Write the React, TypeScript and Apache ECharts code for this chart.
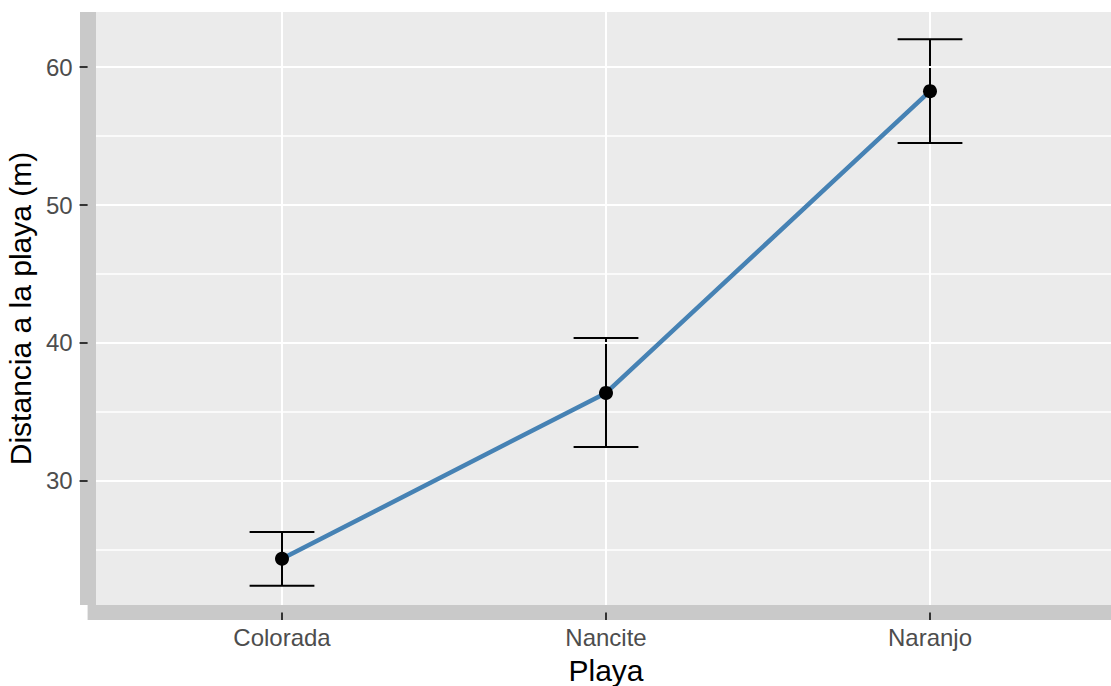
import React, { useEffect, useRef } from "react";
import * as echarts from "echarts";

const categories = ["Colorada", "Nancite", "Naranjo"];
const means = [24.35, 36.38, 58.26];
const lower = [22.4, 32.46, 54.5];
const upper = [26.3, 40.36, 62.03];
const majorTicks = [30, 40, 50, 60];
const minorTicks = [25, 35, 45, 55];
const xPositions = [1, 2, 3];

export default function App() {
  const ref = useRef<HTMLDivElement>(null);
  useEffect(() => {
    if (!ref.current) return;
    const chart = echarts.init(ref.current, null, { renderer: "svg" });
    const pts = categories.map((_, i) => [xPositions[i], means[i]]);
    const errData = categories.map((_, i) => [xPositions[i], lower[i], upper[i]]);
    const font = "Liberation Sans, Arial, sans-serif";
    chart.setOption({
      animation: false,
      backgroundColor: "#ffffff",
      grid: {
        left: 87.6,
        right: -13.4,
        top: 12,
        bottom: 81,
        show: true,
        backgroundColor: "#EBEBEB",
        borderWidth: 0,
        outerBoundsMode: "none",
        containLabel: false,
      },
      xAxis: {
        type: "value",
        min: 0.4,
        max: 3.6,
        offset: 7.5,
        name: "Playa",
        nameLocation: "middle",
        nameGap: 43,
        nameTextStyle: { fontSize: 30, color: "#000", fontFamily: font },
        axisLine: { show: true, lineStyle: { color: "#C9C9C9", width: 15, cap: "butt" } },
        axisTick: {
          show: true,
          customValues: xPositions,
          length: 7.5,
          lineStyle: { color: "#333333", width: 2, cap: "butt" },
        },
        axisLabel: {
          customValues: xPositions,
          formatter: (v: number) => categories[Math.round(v) - 1] ?? "",
          fontSize: 24,
          color: "#4D4D4D",
          fontFamily: font,
          margin: 13,
        },
        splitLine: { show: true, lineStyle: { color: "#ffffff", width: 2 } },
      },
      yAxis: [
        {
          type: "value",
          min: 21,
          max: 64,
          name: "Distancia a la playa (m)",
          nameLocation: "middle",
          nameGap: 46,
          nameTextStyle: { fontSize: 30, color: "#000", fontFamily: font },
          axisLine: { show: true, lineStyle: { color: "#C9C9C9", width: 16, cap: "butt" } },
          axisTick: {
            show: true,
            customValues: majorTicks,
            length: 8,
            lineStyle: { color: "#333333", width: 2, cap: "butt" },
          },
          axisLabel: {
            customValues: majorTicks,
            fontSize: 24,
            color: "#4D4D4D",
            fontFamily: font,
            margin: 15,
          },
          splitLine: { show: true, lineStyle: { color: "#ffffff", width: 2 } },
          z: 3,
        },
        {
          type: "value",
          min: 21,
          max: 64,
          axisLine: { show: false },
          axisTick: { show: false, customValues: minorTicks },
          axisLabel: { show: false, customValues: minorTicks },
          splitLine: { show: true, lineStyle: { color: "#ffffff", width: 1.5 } },
          z: 1,
        },
      ],
      series: [
        {
          type: "custom",
          yAxisIndex: 0,
          data: errData,
          z: 2,
          renderItem: (params: any, api: any) => {
            const x = api.value(0);
            const lo = api.value(1);
            const hi = api.value(2);
            const top = api.coord([x, hi]);
            const bot = api.coord([x, lo]);
            const tl = api.coord([x - 0.1, hi]);
            const tr = api.coord([x + 0.1, hi]);
            const bl = api.coord([x - 0.1, lo]);
            const br = api.coord([x + 0.1, lo]);
            const style = { stroke: "#000000", lineWidth: 2 };
            return {
              type: "group",
              children: [
                { type: "line", shape: { x1: top[0], y1: top[1], x2: bot[0], y2: bot[1] }, style },
                { type: "line", shape: { x1: tl[0], y1: tl[1], x2: tr[0], y2: tr[1] }, style },
                { type: "line", shape: { x1: bl[0], y1: bl[1], x2: br[0], y2: br[1] }, style },
              ],
            };
          },
        },
        {
          type: "line",
          data: pts,
          symbol: "none",
          lineStyle: { color: "#4682B4", width: 4.5 },
          z: 3,
        },
        {
          type: "scatter",
          data: pts,
          symbol: "circle",
          symbolSize: 14,
          itemStyle: { color: "#000000", opacity: 1 },
          z: 4,
        },
      ],
    });
    return () => chart.dispose();
  }, []);
  return (
    <div
      ref={ref}
      style={{ position: "fixed", left: 0, top: 0, width: 1111, height: 686 }}
    />
  );
}
